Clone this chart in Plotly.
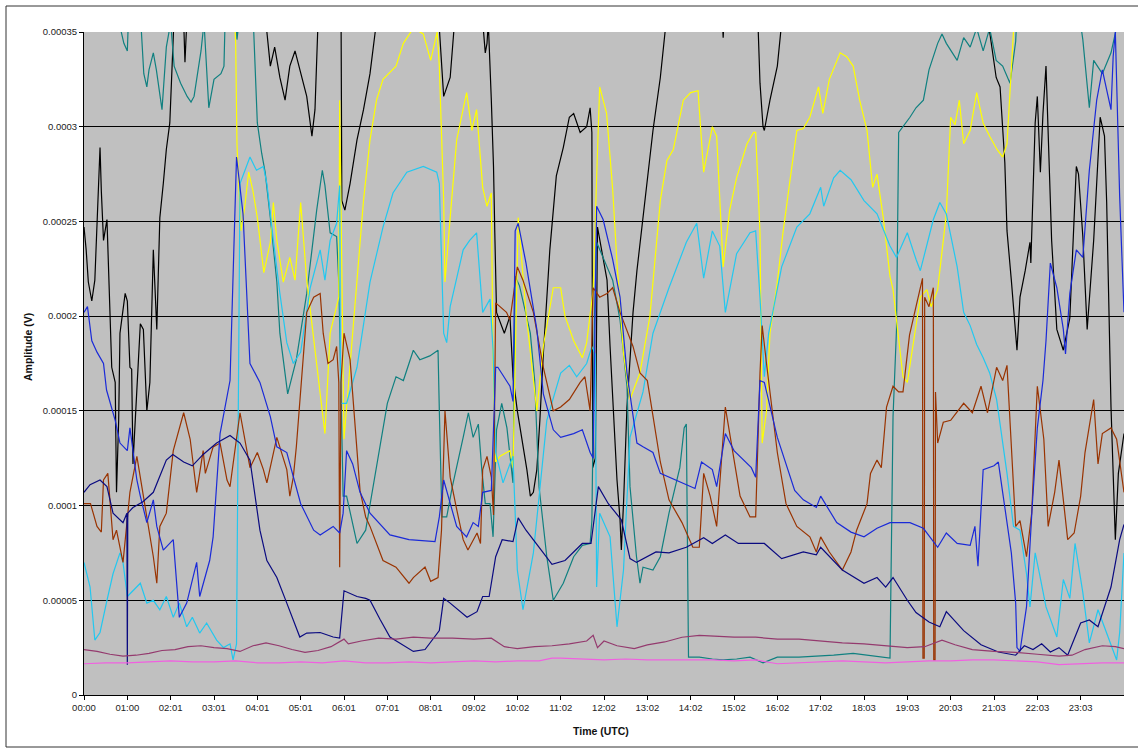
import plotly.graph_objects as go

# Values: (hour of day, amplitude in units of 1e-5 V)
SCALE = 1e-5

TICK_LABELS = ["00:00", "01:00", "02:01", "03:01", "04:01", "05:01", "06:01", "07:01",
               "08:01", "09:02", "10:02", "11:02", "12:02", "13:02", "14:02", "15:02",
               "16:02", "17:02", "18:03", "19:03", "20:03", "21:03", "22:03", "23:03"]
Y_TICKS = [0, 5, 10, 15, 20, 25, 30, 35]
Y_TICK_TEXT = ["0", "0.00005", "0.0001", "0.00015", "0.0002", "0.00025", "0.0003", "0.00035"]

BLACK = [(0, 24.7), (0.05, 23.5), (0.1, 21.8), (0.18, 20.8), (0.25, 21.9), (0.33, 26.1), (0.37, 28.9),
         (0.4, 26.6), (0.45, 24.0), (0.53, 25.1), (0.6, 20.8), (0.64, 17.3), (0.72, 16.5), (0.75, 10.7),
         (0.8, 14.5), (0.83, 19.1), (0.95, 21.2), (1.0, 20.8), (1.06, 17.3), (1.1, 17.2), (1.13, 12.2),
         (1.2, 15.0), (1.3, 19.6), (1.37, 19.3), (1.45, 15.0), (1.52, 16.5), (1.6, 23.5), (1.68, 19.3),
         (1.75, 25.2), (1.83, 27.0), (1.9, 28.8), (1.98, 30.2), (2.03, 33.2), (2.06, 34.4), (2.1, 37),
         (2.28, 37), (2.33, 33.4), (2.4, 37), (4.2, 37), (4.22, 35), (4.3, 33.2), (4.4, 34.2),
         (4.52, 32.6), (4.64, 31.4), (4.75, 33.2), (4.87, 34.0), (5.0, 32.8), (5.14, 31.6), (5.26, 29.5),
         (5.33, 30.9), (5.4, 35.5), (5.45, 37), (5.93, 37), (5.95, 26.1), (6.02, 25.6), (6.14, 27.0),
         (6.3, 29.3), (6.45, 30.9), (6.6, 32.8), (6.72, 35), (6.8, 37), (8.15, 37), (8.3, 31.6),
         (8.45, 32.6), (8.55, 35.5), (8.6, 37), (9.15, 37), (9.26, 33.9), (9.3, 34.4), (9.33, 35.5),
         (9.4, 31.4), (9.45, 27.9), (9.48, 24.4), (9.52, 20.2), (9.7, 19.1), (9.83, 20.0), (9.9, 16.8),
         (10.0, 15.0), (10.22, 11.9), (10.3, 10.5), (10.37, 10.7), (10.45, 11.9), (10.52, 14.5),
         (10.6, 18.0), (10.75, 23.5), (10.9, 27.4), (11.06, 28.9), (11.2, 30.5), (11.3, 30.7),
         (11.45, 29.7), (11.6, 30.0), (11.68, 31.0), (11.72, 29.7), (11.74, 12.0), (11.8, 12.5),
         (11.85, 24.7), (12.07, 21.9), (12.14, 18.4), (12.3, 11.35), (12.37, 9.25), (12.4, 7.65),
         (12.45, 10.1), (12.53, 15.2), (12.67, 20.2), (12.76, 22.4), (12.9, 25.2), (13.13, 29.8),
         (13.3, 32.6), (13.4, 35.1), (13.5, 37), (14.7, 37), (14.75, 34.7), (14.8, 37), (15.5, 37),
         (15.56, 35), (15.6, 32.3), (15.67, 30.0), (15.7, 29.8), (15.83, 31.4), (16.0, 33.2),
         (16.1, 35.5), (16.2, 37), (20.85, 37), (20.9, 35), (21.05, 32.6), (21.14, 32.1), (21.25, 28.1),
         (21.3, 24.5), (21.4, 21.9), (21.5, 19.3), (21.53, 18.2), (21.6, 21.0), (21.72, 22.4),
         (21.83, 23.9), (21.85, 22.8), (21.95, 30.2), (22.0, 31.6), (22.07, 27.6), (22.13, 30.7),
         (22.2, 33.2), (22.25, 29.5), (22.33, 24.0), (22.45, 19.3), (22.6, 18.2), (22.75, 19.9),
         (22.9, 27.9), (22.95, 27.5), (23.05, 24.2), (23.15, 19.3), (23.3, 24.0), (23.45, 30.5),
         (23.55, 29.5), (23.6, 26.0), (23.7, 15.2), (23.8, 8.2), (23.87, 11.7), (24.0, 13.8)]

TEAL = [(0, 38), (0.8, 38), (0.85, 35.1), (0.92, 34.4), (1.0, 34.0), (1.03, 36), (1.3, 36), (1.38, 32.8),
        (1.45, 32.1), (1.5, 33.0), (1.6, 33.9), (1.67, 33.0), (1.8, 30.9), (1.9, 34.2), (2.0, 35.5),
        (2.08, 33.2), (2.23, 32.3), (2.38, 31.6), (2.47, 31.3), (2.54, 31.6), (2.7, 34.0), (2.77, 35.5),
        (2.88, 31.0), (3.0, 32.5), (3.16, 32.8), (3.23, 33.2), (3.26, 36), (3.5, 36), (3.53, 34.6),
        (3.6, 36), (3.9, 36), (4.0, 30.2), (4.1, 28.6), (4.18, 27.6), (4.3, 25.2), (4.45, 21.8),
        (4.52, 19.1), (4.7, 15.9), (4.9, 17.7), (5.14, 21.2), (5.37, 25.6), (5.5, 27.7), (5.56, 26.9),
        (5.68, 24.4), (5.83, 24.2), (5.88, 21.8), (5.95, 13.8), (5.98, 10.5), (6.06, 10.5), (6.3, 8.0),
        (6.5, 8.7), (6.75, 12.0), (7.0, 15.4), (7.2, 16.8), (7.37, 16.6), (7.6, 18.2), (7.75, 17.7),
        (7.98, 17.9), (8.17, 18.2), (8.2, 15.0), (8.26, 9.4), (8.37, 9.4), (8.5, 11.0), (8.75, 13.6),
        (8.87, 14.9), (8.98, 13.6), (9.1, 14.3), (9.18, 11.9), (9.26, 10.1), (9.37, 10.1), (9.44, 8.35),
        (9.52, 14.0), (9.64, 15.4), (9.76, 14.1), (9.9, 11.2), (9.95, 22.1), (10.05, 21.6), (10.3, 19.1),
        (10.4, 16.6), (10.5, 11.0), (10.68, 7.3), (10.83, 5.0), (11.06, 5.9), (11.3, 7.3), (11.5, 7.9),
        (11.68, 8.0), (11.72, 9.2), (11.78, 20.0), (11.83, 23.9), (12.07, 22.6), (12.2, 21.9),
        (12.37, 19.8), (12.53, 16.3), (12.6, 11.0), (12.75, 7.3), (12.83, 5.9), (12.9, 6.75),
        (13.13, 6.6), (13.3, 7.3), (13.5, 9.6), (13.75, 12.0), (13.85, 14.1), (13.9, 14.3), (13.95, 2.0),
        (14.2, 2.0), (14.5, 1.9), (14.75, 1.85), (15.06, 1.9), (15.37, 2.0), (15.67, 1.7), (16.0, 2.0),
        (16.5, 2.0), (17.3, 2.1), (17.75, 2.2), (18.15, 2.1), (18.6, 1.95), (18.67, 14.7), (18.75, 19.3),
        (18.8, 29.7), (18.9, 30.0), (19.06, 30.5), (19.2, 31.0), (19.37, 31.4), (19.5, 33.0),
        (19.7, 34.4), (19.8, 34.9), (19.9, 34.4), (20.15, 33.5), (20.3, 34.7), (20.45, 34.2),
        (20.6, 35.2), (20.75, 34.0), (20.9, 35.2), (21.05, 33.5), (21.2, 33.2), (21.37, 32.3),
        (21.5, 34.5), (21.55, 37), (22.9, 37), (23.05, 34.6), (23.15, 32.3), (23.2, 31.0), (23.3, 33.5),
        (23.5, 32.8), (23.7, 33.9), (23.85, 35.5), (24.0, 37)]

YELLOW = [(3.45, 37), (3.5, 34.4), (3.53, 29.1), (3.62, 24.5), (3.7, 25.6), (3.8, 27.6), (3.9, 26.6),
          (4.0, 25.2), (4.15, 22.3), (4.3, 23.9), (4.37, 26.0), (4.45, 24.0), (4.6, 21.8), (4.75, 23.1),
          (4.87, 21.9), (5.0, 26.0), (5.14, 21.9), (5.37, 17.3), (5.56, 13.8), (5.68, 19.1), (5.8, 20.3),
          (5.88, 21.0), (5.9, 31.4), (5.95, 22.0), (6.0, 13.5), (6.2, 19.1), (6.45, 26.1), (6.6, 29.3),
          (6.75, 31.4), (6.9, 32.5), (7.2, 33.2), (7.37, 34.4), (7.6, 35.2), (7.83, 34.9), (8.0, 33.5),
          (8.15, 35.0), (8.2, 33.2), (8.3, 26.1), (8.33, 21.8), (8.45, 25.2), (8.6, 29.3), (8.83, 31.8),
          (8.95, 29.8), (9.06, 30.9), (9.2, 26.8), (9.3, 25.8), (9.4, 26.5), (9.44, 17.3), (9.5, 12.3),
          (9.6, 12.6), (9.83, 12.9), (9.9, 12.0), (10.02, 25.2), (10.2, 20.2), (10.45, 15.0),
          (10.6, 18.4), (10.83, 21.5), (11.0, 21.5), (11.1, 20.0), (11.3, 18.7), (11.5, 17.8),
          (11.6, 18.6), (11.75, 21.4), (11.83, 27.3), (11.9, 32.1), (12.06, 30.7), (12.2, 26.7),
          (12.3, 22.8), (12.45, 18.0), (12.6, 15.6), (12.83, 17.0), (13.06, 20.0), (13.3, 26.1),
          (13.45, 28.2), (13.6, 28.8), (13.83, 31.4), (14.0, 31.8), (14.17, 31.9), (14.3, 27.6),
          (14.5, 30.0), (14.6, 29.5), (14.75, 22.6), (14.9, 25.6), (15.06, 27.3), (15.3, 29.1),
          (15.45, 29.7), (15.5, 29.7), (15.6, 24.4), (15.65, 13.3), (15.75, 15.0), (15.83, 19.1),
          (16.0, 21.8), (16.13, 24.4), (16.3, 27.3), (16.45, 29.8), (16.6, 29.9), (16.75, 30.5),
          (16.95, 32.1), (17.05, 30.7), (17.2, 32.5), (17.45, 33.9), (17.6, 33.7), (17.75, 33.2),
          (17.9, 31.4), (18.07, 29.8), (18.2, 26.8), (18.3, 27.5), (18.45, 25.1), (18.6, 22.1),
          (18.67, 21.4), (18.9, 16.8), (19.0, 16.5), (19.1, 18.0), (19.3, 21.0), (19.45, 21.4),
          (19.55, 20.5), (19.7, 21.4), (19.9, 25.4), (20.0, 30.5), (20.1, 30.1), (20.2, 31.4),
          (20.3, 29.1), (20.45, 29.8), (20.6, 31.8), (20.75, 30.2), (20.9, 29.5), (21.07, 28.8),
          (21.2, 28.4), (21.3, 29.1), (21.35, 30.9), (21.45, 34.7), (21.5, 37)]

SKY = [(0, 7.0), (0.14, 5.7), (0.25, 2.9), (0.37, 3.3), (0.53, 5.0), (0.67, 6.4), (0.83, 7.5), (0.9, 7.0),
       (1.0, 5.2), (1.13, 5.5), (1.3, 5.9), (1.45, 4.85), (1.6, 5.0), (1.75, 4.5), (1.9, 5.2), (2.06, 4.1),
       (2.2, 4.85), (2.37, 3.6), (2.5, 4.1), (2.67, 3.27), (2.83, 3.8), (3.06, 2.9), (3.22, 2.5),
       (3.37, 2.7), (3.44, 1.85), (3.52, 2.7), (3.56, 15.0), (3.6, 27.0), (3.83, 28.4), (3.98, 27.7),
       (4.14, 27.9), (4.22, 27.0), (4.37, 24.0), (4.52, 21.2), (4.68, 18.6), (4.83, 17.5), (5.0, 18.1),
       (5.22, 21.5), (5.45, 23.5), (5.56, 21.9), (5.68, 24.0), (5.83, 24.9), (5.9, 26.9), (5.92, 15.4),
       (6.06, 15.4), (6.3, 17.3), (6.6, 21.8), (6.9, 24.7), (7.13, 26.5), (7.45, 27.6), (7.83, 27.9),
       (8.14, 27.6), (8.2, 27.0), (8.3, 19.1), (8.37, 18.6), (8.45, 20.5), (8.75, 23.5), (8.9, 24.0),
       (9.06, 24.4), (9.2, 20.2), (9.37, 20.9), (9.44, 18.2), (9.5, 12.8), (9.67, 11.2), (9.83, 12.2),
       (9.9, 12.6), (10.0, 6.6), (10.13, 4.5), (10.37, 7.5), (10.52, 11.0), (10.68, 14.5), (11.0, 17.0),
       (11.2, 17.4), (11.37, 16.8), (11.6, 17.5), (11.72, 18.4), (11.8, 18.0), (11.83, 5.7),
       (11.9, 9.6), (12.14, 8.35), (12.3, 3.6), (12.45, 6.6), (12.6, 13.6), (12.9, 16.0), (13.13, 19.1),
       (13.5, 21.5), (13.9, 23.9), (14.14, 24.9), (14.3, 22.0), (14.5, 24.5), (14.67, 23.7),
       (14.8, 20.2), (15.06, 23.3), (15.37, 24.4), (15.5, 24.5), (15.6, 21.0), (15.7, 16.8),
       (15.8, 19.1), (16.1, 22.6), (16.45, 24.7), (16.75, 25.4), (17.0, 26.8), (17.07, 25.8),
       (17.3, 27.3), (17.45, 27.7), (17.7, 27.2), (18.0, 26.1), (18.3, 25.4), (18.6, 23.7),
       (18.75, 23.1), (19.0, 24.4), (19.2, 23.0), (19.3, 22.4), (19.6, 25.1), (19.75, 26.0),
       (19.9, 25.4), (20.15, 22.6), (20.3, 20.2), (20.45, 19.5), (20.6, 18.5), (20.75, 17.8),
       (20.9, 17.0), (21.06, 15.6), (21.3, 11.7), (21.45, 8.9), (21.6, 8.7), (21.75, 6.4),
       (21.83, 4.65), (21.95, 7.5), (22.05, 6.4), (22.2, 4.65), (22.45, 3.06), (22.6, 6.1),
       (22.75, 5.1), (22.87, 8.0), (23.05, 5.4), (23.2, 2.75), (23.4, 4.5), (23.6, 3.27),
       (23.83, 1.85), (23.9, 3.3), (24.0, 7.5)]

BROWN = [(0, 10.1), (0.15, 10.1), (0.3, 8.9), (0.4, 8.6), (0.45, 11.35), (0.55, 11.7), (0.67, 8.2),
         (0.75, 8.7), (0.9, 7.0), (1.06, 10.7), (1.22, 12.6), (1.37, 10.5), (1.6, 7.3), (1.68, 5.9),
         (1.75, 8.9), (1.9, 9.6), (2.06, 12.9), (2.3, 14.9), (2.45, 13.5), (2.6, 10.7), (2.75, 12.9),
         (2.8, 11.7), (2.98, 13.1), (3.14, 13.3), (3.3, 11.35), (3.37, 11.0), (3.6, 14.9), (3.83, 12.0),
         (4.0, 12.8), (4.14, 11.9), (4.22, 11.2), (4.45, 13.6), (4.68, 11.9), (4.75, 10.5), (4.83, 11.5),
         (4.9, 13.1), (5.14, 20.2), (5.3, 21.0), (5.45, 21.2), (5.52, 19.1), (5.63, 17.5), (5.75, 17.7),
         (5.83, 18.4), (5.88, 16.5), (5.9, 6.75), (5.93, 16.5), (6.0, 19.1), (6.14, 17.7), (6.3, 13.1),
         (6.37, 10.8), (6.5, 9.4), (6.6, 8.9), (6.9, 7.1), (7.2, 6.75), (7.5, 5.9), (7.6, 6.2),
         (7.87, 6.75), (8.0, 6.0), (8.17, 6.2), (8.25, 8.7), (8.33, 15.0), (8.45, 11.5), (8.6, 9.8),
         (8.75, 8.2), (8.86, 7.65), (9.07, 8.55), (9.15, 8.0), (9.2, 11.9), (9.3, 12.6), (9.4, 11.5),
         (9.45, 9.5), (9.5, 20.7), (9.75, 20.2), (9.83, 19.8), (10.0, 22.6), (10.13, 21.9), (10.37, 20.2),
         (10.6, 17.3), (10.83, 15.0), (11.0, 15.2), (11.2, 15.6), (11.45, 16.5), (11.56, 16.8),
         (11.68, 15.0), (11.75, 21.5), (11.9, 21.0), (12.07, 21.2), (12.2, 21.5), (12.37, 20.2),
         (12.67, 18.4), (12.83, 17.0), (13.0, 16.6), (13.3, 12.3), (13.5, 10.3), (13.8, 9.1),
         (14.05, 7.8), (14.2, 7.8), (14.3, 11.7), (14.45, 10.5), (14.6, 8.9), (14.8, 15.2), (15.0, 12.4),
         (15.14, 10.5), (15.37, 9.4), (15.5, 9.4), (15.6, 17.0), (15.65, 19.5), (15.75, 17.5),
         (16.0, 12.8), (16.2, 10.1), (16.45, 8.9), (16.75, 8.35), (16.9, 7.55), (17.0, 8.35),
         (17.2, 7.55), (17.5, 6.6), (17.7, 7.55), (17.83, 8.7), (18.07, 10.1), (18.15, 11.7),
         (18.3, 12.4), (18.4, 12.0), (18.52, 15.2), (18.67, 16.3), (18.8, 16.0), (18.9, 16.0),
         (19.05, 19.0), (19.2, 20.5), (19.35, 22.0), (19.36, 1.95), (19.39, 1.95), (19.4, 21.0),
         (19.5, 20.5), (19.6, 21.5), (19.61, 1.85), (19.64, 1.85), (19.65, 16.0), (19.7, 13.3),
         (19.83, 14.4), (20.0, 14.5), (20.3, 15.4), (20.5, 14.9), (20.7, 16.3), (20.85, 14.9),
         (21.06, 17.3), (21.2, 16.6), (21.3, 17.4), (21.5, 8.9), (21.6, 9.2), (21.75, 7.3), (21.87, 9.6),
         (22.0, 16.3), (22.15, 13.5), (22.25, 8.9), (22.4, 10.7), (22.5, 12.4), (22.7, 8.2),
         (22.85, 8.55), (23.0, 10.5), (23.1, 12.8), (23.3, 15.6), (23.4, 12.2), (23.5, 13.8),
         (23.7, 14.1), (23.83, 13.5), (24.0, 10.7)]

BLUE = [(0, 20.2), (0.08, 20.5), (0.18, 18.7), (0.3, 18.1), (0.45, 17.5), (0.52, 16.1), (0.72, 14.5),
        (0.83, 13.3), (1.0, 12.9), (1.06, 14.1), (1.22, 11.35), (1.3, 10.5), (1.45, 9.1), (1.6, 10.3),
        (1.68, 8.9), (1.83, 7.65), (2.06, 8.2), (2.2, 4.1), (2.37, 4.85), (2.6, 7.0), (2.67, 5.2),
        (2.9, 7.1), (2.98, 8.35), (3.14, 13.8), (3.37, 16.6), (3.52, 28.4), (3.67, 25.4), (3.76, 20.9),
        (3.83, 17.5), (4.06, 16.5), (4.3, 14.7), (4.45, 13.1), (4.68, 12.8), (5.0, 10.1), (5.3, 8.7),
        (5.45, 8.45), (5.75, 8.9), (5.9, 8.55), (5.98, 9.6), (6.06, 12.9), (6.2, 12.2), (6.37, 10.7),
        (6.6, 9.6), (7.06, 8.45), (7.5, 8.2), (8.1, 8.1), (8.2, 9.4), (8.3, 11.35), (8.45, 10.1),
        (8.6, 8.9), (8.83, 8.35), (8.98, 9.1), (9.1, 8.9), (9.2, 10.7), (9.4, 10.8), (9.5, 17.3),
        (9.55, 17.3), (9.83, 16.3), (9.9, 15.5), (9.95, 24.5), (10.02, 24.9), (10.2, 22.8), (10.45, 19.3),
        (10.6, 15.9), (10.83, 14.0), (11.0, 13.6), (11.3, 13.8), (11.5, 14.0), (11.68, 12.8),
        (11.75, 12.5), (11.83, 25.8), (11.98, 25.1), (12.2, 23.0), (12.37, 21.0), (12.53, 17.0),
        (12.76, 13.3), (12.9, 13.1), (13.13, 12.8), (13.3, 11.7), (13.5, 11.5), (13.9, 11.1),
        (14.1, 10.9), (14.25, 12.3), (14.5, 11.9), (14.6, 11.0), (14.8, 13.8), (15.0, 12.9),
        (15.4, 12.0), (15.5, 11.5), (15.6, 16.6), (15.7, 16.5), (16.0, 13.6), (16.4, 10.8),
        (16.6, 10.3), (16.9, 9.9), (17.0, 10.5), (17.37, 9.1), (17.7, 8.6), (18.0, 8.35), (18.3, 8.8),
        (18.6, 9.1), (19.06, 9.1), (19.37, 8.8), (19.7, 7.8), (19.9, 8.55), (20.15, 8.0), (20.45, 7.9),
        (20.56, 8.9), (20.63, 6.8), (20.75, 11.9), (21.0, 12.1), (21.1, 12.3), (21.2, 10.7),
        (21.4, 7.5), (21.5, 4.85), (21.53, 2.5), (21.6, 2.3), (21.75, 4.65), (21.88, 9.9), (22.0, 14.1),
        (22.13, 16.6), (22.2, 18.7), (22.3, 22.8), (22.45, 21.5), (22.6, 19.3), (22.65, 18.0),
        (22.75, 21.2), (22.9, 23.5), (23.05, 23.1), (23.2, 27.7), (23.37, 31.4), (23.5, 33.0),
        (23.7, 30.9), (23.75, 33.7), (23.8, 35.0), (23.9, 26.3), (24.0, 20.2)]

NAVY = [(0, 10.7), (0.14, 11.1), (0.37, 11.35), (0.53, 11.0), (0.67, 9.6), (0.9, 9.1), (0.99, 9.6),
        (1.0, 1.6), (1.01, 9.6), (1.13, 9.9), (1.36, 10.2), (1.6, 10.7), (1.9, 12.4), (2.05, 12.7),
        (2.3, 12.3), (2.5, 12.1), (2.75, 12.7), (3.06, 13.3), (3.37, 13.7), (3.6, 13.3), (3.83, 12.4),
        (4.06, 8.7), (4.22, 7.1), (4.45, 6.2), (4.68, 4.85), (4.98, 3.06), (5.14, 3.27), (5.45, 3.3),
        (5.75, 3.06), (5.9, 3.0), (6.0, 5.5), (6.3, 5.2), (6.5, 5.1), (6.6, 5.0), (6.83, 4.0),
        (7.06, 3.06), (7.6, 2.3), (7.87, 2.4), (8.2, 3.4), (8.3, 5.1), (8.45, 4.85), (8.84, 4.1),
        (9.07, 4.4), (9.2, 5.2), (9.35, 5.2), (9.5, 7.3), (9.65, 8.2), (9.9, 8.1), (10.02, 9.35),
        (10.2, 8.7), (10.6, 7.5), (10.8, 6.9), (11.1, 7.1), (11.5, 8.0), (11.7, 8.0), (11.87, 11.0),
        (12.1, 10.1), (12.4, 9.25), (12.6, 7.2), (12.75, 7.0), (13.2, 7.55), (13.5, 7.5), (13.9, 7.8),
        (14.3, 8.3), (14.5, 8.0), (14.8, 8.45), (15.1, 8.0), (15.4, 8.0), (15.7, 8.0), (16.1, 7.2),
        (16.6, 7.55), (16.9, 7.4), (17.0, 7.8), (17.5, 6.6), (18.0, 5.9), (18.3, 6.2), (18.5, 5.7),
        (18.67, 6.2), (19.0, 5.0), (19.2, 4.35), (19.5, 3.85), (19.75, 3.6), (19.9, 4.4), (20.3, 3.4),
        (20.7, 2.65), (21.1, 2.27), (21.5, 2.1), (21.7, 2.6), (21.9, 2.4), (22.1, 2.7), (22.3, 2.27),
        (22.5, 2.5), (22.7, 2.1), (23.0, 3.8), (23.2, 3.96), (23.4, 3.6), (23.7, 5.7), (23.9, 8.2),
        (24.0, 9.0)]

PLUM = [(0, 2.4), (0.3, 2.3), (0.6, 2.15), (0.9, 2.05), (1.2, 2.1), (1.5, 2.2), (1.8, 2.35), (2.1, 2.4),
        (2.4, 2.55), (2.7, 2.6), (3.0, 2.5), (3.3, 2.45), (3.6, 2.3), (3.9, 2.6), (4.2, 2.75), (4.5, 2.6),
        (4.8, 2.4), (5.1, 2.25), (5.4, 2.35), (5.7, 2.55), (6.0, 2.95), (6.1, 2.7), (6.4, 2.85),
        (6.8, 3.0), (7.2, 2.95), (7.6, 3.05), (8.0, 3.0), (8.5, 3.0), (9.0, 2.95), (9.4, 3.0),
        (9.7, 2.55), (10.0, 2.45), (10.4, 2.55), (10.8, 2.6), (11.2, 2.7), (11.6, 2.85), (11.75, 3.15),
        (11.85, 2.5), (12.0, 2.85), (12.3, 2.6), (12.7, 2.45), (13.0, 2.65), (13.4, 2.8), (13.8, 3.05),
        (14.2, 3.15), (14.6, 3.1), (15.0, 3.05), (15.5, 3.05), (16.0, 2.95), (16.5, 2.95), (17.0, 2.85),
        (17.5, 2.75), (18.0, 2.7), (18.5, 2.6), (19.0, 2.5), (19.4, 2.55), (19.8, 2.9), (20.1, 2.65),
        (20.5, 2.4), (21.0, 2.3), (21.5, 2.25), (22.0, 2.15), (22.5, 2.05), (22.8, 2.1), (23.1, 2.4),
        (23.5, 2.6), (23.8, 2.55), (24.0, 2.45)]

PINK = [(0, 1.65), (0.5, 1.7), (1.0, 1.7), (1.5, 1.75), (2.0, 1.8), (2.5, 1.75), (3.0, 1.75), (3.5, 1.8),
        (4.0, 1.7), (4.5, 1.7), (5.0, 1.75), (5.5, 1.7), (6.0, 1.8), (6.5, 1.7), (7.0, 1.7), (7.5, 1.75),
        (8.0, 1.7), (8.5, 1.75), (9.0, 1.8), (9.5, 1.75), (10.0, 1.8), (10.5, 1.8), (10.8, 1.95),
        (11.0, 1.95), (11.5, 1.9), (12.0, 1.85), (12.5, 1.9), (13.0, 1.85), (13.5, 1.85), (14.0, 1.85),
        (14.5, 1.85), (15.0, 1.8), (15.5, 1.85), (16.0, 1.65), (16.5, 1.7), (17.0, 1.75), (17.5, 1.8),
        (18.0, 1.75), (18.5, 1.7), (19.0, 1.75), (19.5, 1.8), (20.0, 1.8), (20.5, 1.85), (21.0, 1.85),
        (21.5, 1.8), (22.0, 1.75), (22.5, 1.6), (23.0, 1.65), (23.5, 1.7), (24.0, 1.7)]

SERIES = [
    ("black", BLACK, "#000000"),
    ("teal", TEAL, "#108080"),
    ("yellow", YELLOW, "#FFFF00"),
    ("sky", SKY, "#22C8F0"),
    ("brown", BROWN, "#993300"),
    ("blue", BLUE, "#1A2AD8"),
    ("navy", NAVY, "#0A0A80"),
    ("plum", PLUM, "#943A6E"),
    ("pink", PINK, "#F060E0"),
]

fig = go.Figure()
for name, pts, color in SERIES:
    xs = [p[0] for p in pts]
    ys = [p[1] * SCALE for p in pts]
    fig.add_trace(go.Scatter(x=xs, y=ys, mode="lines", name=name,
                             line=dict(color=color, width=1.2), hoverinfo="skip"))

W, H = 1138, 749
L, R, T, B = 84, 1124, 32, 695


def px(xp):
    return (xp - L) / (R - L)


def py(yp):
    return (B - yp) / (B - T)


fig.update_layout(
    width=W, height=H,
    margin=dict(l=L, r=W - R, t=T, b=H - B, pad=0),
    paper_bgcolor="white",
    plot_bgcolor="#C0C0C0",
    showlegend=False,
    font=dict(family="Liberation Sans, Arial, sans-serif", size=10, color="#222222"),
    xaxis=dict(
        range=[0, 24], tickmode="array", tickvals=list(range(24)), ticktext=TICK_LABELS,
        showgrid=False, zeroline=False, showline=True, linecolor="#000000", linewidth=1,
        ticks="outside", ticklen=4, tickcolor="#000000", tickfont=dict(size=9.5, color="#222222"),
    ),
    yaxis=dict(
        range=[0, 35 * SCALE], tickmode="array", tickvals=[v * SCALE for v in Y_TICKS],
        ticktext=Y_TICK_TEXT, showgrid=True, gridcolor="#000000", gridwidth=1,
        zeroline=False, showline=True, linecolor="#000000", linewidth=1,
        ticks="outside", ticklen=4, tickcolor="#000000", tickfont=dict(size=9.5, color="#222222"),
    ),
    shapes=[
        dict(type="rect", xref="paper", yref="paper", x0=px(6), x1=px(1145), y0=py(747), y1=py(6),
             line=dict(color="#333333", width=1), fillcolor="rgba(0,0,0,0)", layer="below"),
    ],
    annotations=[
        dict(text="<b>Time (UTC)</b>", xref="paper", yref="paper", x=px(601), y=py(731),
             showarrow=False, font=dict(size=10.5, color="#111111"), xanchor="center", yanchor="middle"),
        dict(text="<b>Amplitude (V)</b>", xref="paper", yref="paper", x=px(28), y=py(347),
             showarrow=False, textangle=-90, font=dict(size=10.5, color="#111111"),
             xanchor="center", yanchor="middle"),
    ],
)

fig.write_html("out.html")
